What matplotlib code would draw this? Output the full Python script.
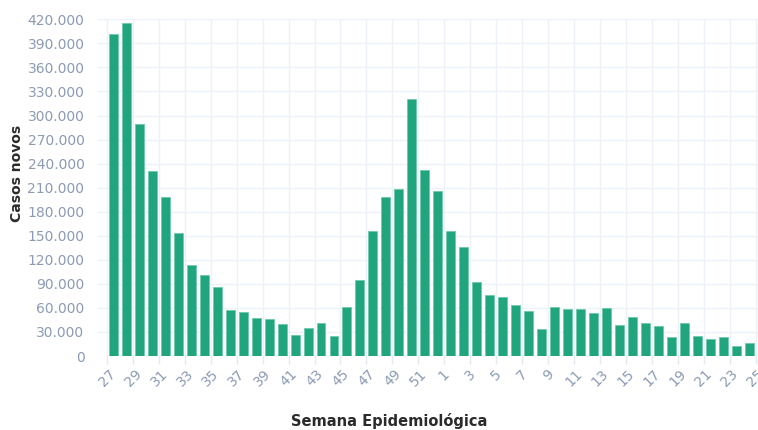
import matplotlib
matplotlib.use("Agg")
import matplotlib.pyplot as plt
import numpy as np

# Data
weeks = ["27", "28", "29", "30", "31", "32", "33", "34", "35", "36", "37", "38", "39",
         "40", "41", "42", "43", "44", "45", "46", "47", "48", "49", "50", "51", "52",
         "1", "2", "3", "4", "5", "6", "7", "8", "9", "10", "11", "12", "13", "14",
         "15", "16", "17", "18", "19", "20", "21", "22", "23", "24"]
cases = [402000, 415000, 290000, 231000, 198000, 154000, 113000, 100500, 85700, 57400,
         54700, 48000, 46500, 39500, 26600, 34900, 41200, 25300, 61500, 94800,
         155500, 198000, 208500, 321000, 232000, 206000, 156000, 135600, 92000, 76000,
         73600, 63600, 56100, 33300, 61100, 59000, 58200, 53200, 59900, 38300,
         48200, 41600, 37800, 23300, 40800, 24900, 21200, 23700, 12500, 15800]
tick_labels = ["27", "29", "31", "33", "35", "37", "39", "41", "43", "45", "47", "49", "51",
               "1", "3", "5", "7", "9", "11", "13", "15", "17", "19", "21", "23", "25"]
y_ticks = [0, 30000, 60000, 90000, 120000, 150000, 180000, 210000, 240000,
           270000, 300000, 330000, 360000, 390000, 420000]

W, H = 758, 430
fig = plt.figure(figsize=(W / 100, H / 100), dpi=100)
left_px, right_px, top_px, bot_px = 97, 758, 19.3, 356
ax = fig.add_axes([left_px / W, 1 - bot_px / H, (right_px - left_px) / W, (bot_px - top_px) / H])

x = np.arange(len(weeks))
ax.bar(x, cases, width=0.69, color="#20a57f", edgecolor="#6ccaa9", linewidth=0.6, zorder=3)

ax.set_ylim(0, 420000)
ax.set_xlim(-1.27, 49.69)

ax.set_yticks(y_ticks)
ax.set_yticklabels([f"{v:,}".replace(",", ".") for v in y_ticks])
tick_pos = np.arange(0, 2 * len(tick_labels), 2) - 0.5
ax.set_xticks(tick_pos)
ax.set_xticklabels(tick_labels, rotation=45, ha="center", va="top")

lab_color = "#8c9bb3"
ax.tick_params(axis="y", length=0, pad=9, labelsize=10, labelcolor=lab_color)
ax.tick_params(axis="x", length=6, width=1, color="#e3e9f1", pad=2, labelsize=10, labelcolor=lab_color)

ax.grid(True, color="#edf2f8", linewidth=1, zorder=0)
for s in ax.spines.values():
    s.set_visible(False)

ax.set_ylabel("Casos novos", fontsize=10, fontweight="bold", color="#2b2b2b")
ax.yaxis.set_label_coords((24 - left_px) / (right_px - left_px), (bot_px - 173) / (bot_px - top_px))
ax.set_xlabel("Semana Epidemiológica", fontsize=10.5, fontweight="bold", color="#2b2b2b")
ax.xaxis.set_label_coords((389 - left_px) / (right_px - left_px), -(413 - bot_px) / (bot_px - top_px))

fig.savefig("out.png", dpi=100)
